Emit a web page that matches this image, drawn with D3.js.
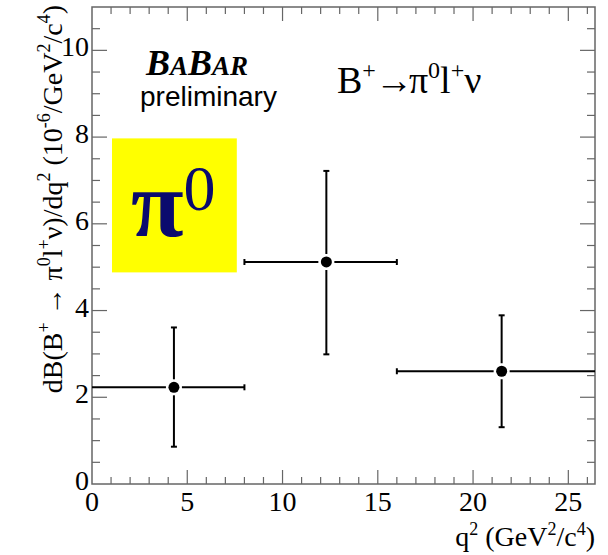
<!DOCTYPE html>
<html>
<head>
<meta charset="utf-8">
<script src="https://cdn.jsdelivr.net/npm/d3@7"></script>
<style>
  html, body { margin: 0; padding: 0; background: #fff; }
  svg { display: block; }
  text { font-family: "Liberation Serif", "Times New Roman", serif; fill: #000; }
</style>
</head>
<body>
<div id="chart"></div>
<script>
document.addEventListener('DOMContentLoaded', () => {
    const width = 608;
    const height = 555;
    const frame = { left: 92, right: 595, top: 7, bottom: 484 };

    // q^2 bins and measured dB/dq^2 (10^-6 / GeV^2/c^4)
    const qCenters = [4.3, 12.3, 21.5];
    const qLow = [0, 8, 16];
    const qHigh = [8, 16, 26.4];
    const rates = [2.23, 5.12, 2.60];
    const errUp = [1.38, 2.10, 1.29];
    const errDown = [1.37, 2.13, 1.29];

    const xTicks = [0, 5, 10, 15, 20, 25];
    const yTicks = [0, 2, 4, 6, 8, 10];

    const points = qCenters.map((q, i) => ({
        q: q, lo: qLow[i], hi: qHigh[i], v: rates[i], up: errUp[i], dn: errDown[i]
    }));

    const x = d3.scaleLinear().domain([0, 26.4]).range([frame.left, frame.right]);
    const y = d3.scaleLinear().domain([0, 11]).range([frame.bottom, frame.top]);

    const svg = d3.select('#chart')
        .append('svg')
        .attr('width', width)
        .attr('height', height);

    const axisColor = '#666';

    // frame
    svg.append('rect')
        .attr('x', frame.left)
        .attr('y', frame.top)
        .attr('width', frame.right - frame.left)
        .attr('height', frame.bottom - frame.top)
        .attr('fill', 'none')
        .attr('stroke', axisColor)
        .attr('stroke-width', 1.5);

    // ticks, ROOT style (inside the frame, on all four sides)
    const xMinor = d3.range(1, 27).filter(v => v % 5 !== 0);
    const yMinor = d3.range(0.5, 11, 0.5).filter(v => v % 2 !== 0);

    const ticks = svg.append('g').attr('stroke', axisColor).attr('stroke-width', 1.2);
    const xTickSet = xTicks.filter(v => v > 0).map(v => ({ v, len: 14 }))
        .concat(xMinor.map(v => ({ v, len: 7 })));
    xTickSet.forEach(t => {
        ticks.append('line').attr('x1', x(t.v)).attr('x2', x(t.v))
            .attr('y1', frame.bottom).attr('y2', frame.bottom - t.len);
        ticks.append('line').attr('x1', x(t.v)).attr('x2', x(t.v))
            .attr('y1', frame.top).attr('y2', frame.top + t.len);
    });
    const yTickSet = yTicks.filter(v => v > 0).map(v => ({ v, len: 15 }))
        .concat(yMinor.map(v => ({ v, len: 8 })));
    yTickSet.forEach(t => {
        ticks.append('line').attr('x1', frame.left).attr('x2', frame.left + t.len)
            .attr('y1', y(t.v)).attr('y2', y(t.v));
        ticks.append('line').attr('x1', frame.right).attr('x2', frame.right - t.len)
            .attr('y1', y(t.v)).attr('y2', y(t.v));
    });

    // tick labels
    svg.append('g').selectAll('text')
        .data(xTicks)
        .enter()
        .append('text')
        .attr('x', d => x(d))
        .attr('y', frame.bottom + 27)
        .attr('text-anchor', 'middle')
        .attr('font-size', 28)
        .text(d => d);

    svg.append('g').selectAll('text')
        .data(yTicks)
        .enter()
        .append('text')
        .attr('x', frame.left - 3)
        .attr('y', d => y(d) + 6)
        .attr('text-anchor', 'end')
        .attr('font-size', 28)
        .text(d => d);

    // axis titles
    const xTitle = svg.append('text')
        .attr('x', frame.right)
        .attr('y', 546)
        .attr('text-anchor', 'end')
        .attr('font-size', 28);
    xTitle.append('tspan').text('q');
    xTitle.append('tspan').attr('dy', -11).attr('font-size', 18).text('2');
    xTitle.append('tspan').attr('dy', 11).text(' (GeV');
    xTitle.append('tspan').attr('dy', -11).attr('font-size', 18).text('2');
    xTitle.append('tspan').attr('dy', 11).text('/c');
    xTitle.append('tspan').attr('dy', -11).attr('font-size', 18).text('4');
    xTitle.append('tspan').attr('dy', 11).text(')');

    const yTitle = svg.append('text')
        .attr('transform', `translate(62, ${frame.top - 2}) rotate(-90)`)
        .attr('text-anchor', 'end')
        .attr('font-size', 28);
    const yParts = [
        ['dB(B', 0], ['+', 1], [' \u2192 \u03c0', 0], ['0', 1], ['l', 0], ['+', 1],
        ['\u03bd)/dq', 0], ['2', 1], [' (10', 0], ['-6', 1], ['/GeV', 0], ['2', 1],
        ['/c', 0], ['4', 1], [')', 0]
    ];
    let prevSup = 0;
    yParts.forEach(([t, sup]) => {
        const sp = yTitle.append('tspan').text(t);
        if (sup !== prevSup) sp.attr('dy', sup ? -12 : 12);
        if (sup) sp.attr('font-size', 18);
        prevSup = sup;
    });

    // yellow pi0 pave
    svg.append('rect')
        .attr('x', x(1.05))
        .attr('y', y(7.97))
        .attr('width', x(7.6) - x(1.05))
        .attr('height', y(4.88) - y(7.97))
        .attr('fill', '#ffff00');

    const pi = svg.append('text')
        .attr('x', 131)
        .attr('y', 236)
        .attr('font-size', 96)
        .style('fill', '#0a0a6e');
    pi.append('tspan').attr('font-weight', 'bold').text('\u03c0');
    pi.append('tspan').attr('dy', -26).attr('font-size', 64).text('0');

    // BABAR logo
    const logo = svg.append('text')
        .attr('x', 146)
        .attr('y', 75)
        .attr('font-weight', 'bold')
        .attr('font-style', 'italic')
        .attr('font-size', 36);
    logo.append('tspan').text('B');
    logo.append('tspan').attr('font-size', 27).text('A');
    logo.append('tspan').text('B');
    logo.append('tspan').attr('font-size', 27).text('AR');

    svg.append('text')
        .attr('x', 140)
        .attr('y', 106)
        .attr('font-size', 28)
        .style('font-family', '"Liberation Sans", Arial, sans-serif')
        .text('preliminary');

    // decay label
    const decay = svg.append('text')
        .attr('x', 337)
        .attr('y', 93)
        .attr('font-size', 38);
    decay.append('tspan').text('B');
    decay.append('tspan').attr('dy', -15).attr('font-size', 24).text('+');
    decay.append('tspan').attr('dy', 15).attr('dx', -1).attr('letter-spacing', -4).text('\u2192');
    decay.append('tspan').text('\u03c0');
    decay.append('tspan').attr('dy', -15).attr('font-size', 24).text('0');
    decay.append('tspan').attr('dy', 15).text('l');
    decay.append('tspan').attr('dy', -15).attr('font-size', 24).text('+');
    decay.append('tspan').attr('dy', 15).text('\u03bd');

    // data points with error bars (gap around marker like ROOT)
    const gap = 8;
    const cap = 3;
    const eb = svg.append('g').attr('stroke', '#000').attr('stroke-width', 2);
    points.forEach(d => {
        const cx = x(d.q), cy = y(d.v);
        const xl = x(d.lo), xr = x(d.hi);
        const yt = y(d.v + d.up), yb = y(d.v - d.dn);
        eb.append('line').attr('x1', xl).attr('x2', cx - gap).attr('y1', cy).attr('y2', cy);
        eb.append('line').attr('x1', cx + gap).attr('x2', xr).attr('y1', cy).attr('y2', cy);
        eb.append('line').attr('x1', cx).attr('x2', cx).attr('y1', yt).attr('y2', cy - gap);
        eb.append('line').attr('x1', cx).attr('x2', cx).attr('y1', cy + gap).attr('y2', yb);
        // end caps, skipped where the bar meets the frame
        if (xl > frame.left + 1) eb.append('line').attr('x1', xl).attr('x2', xl).attr('y1', cy - cap).attr('y2', cy + cap);
        if (xr < frame.right - 1) eb.append('line').attr('x1', xr).attr('x2', xr).attr('y1', cy - cap).attr('y2', cy + cap);
        eb.append('line').attr('x1', cx - cap).attr('x2', cx + cap).attr('y1', yt).attr('y2', yt);
        eb.append('line').attr('x1', cx - cap).attr('x2', cx + cap).attr('y1', yb).attr('y2', yb);
    });

    svg.append('g').selectAll('circle')
        .data(points)
        .enter()
        .append('circle')
        .attr('cx', d => x(d.q))
        .attr('cy', d => y(d.v))
        .attr('r', 5.5)
        .attr('fill', '#000');
});
</script>
</body>
</html>
